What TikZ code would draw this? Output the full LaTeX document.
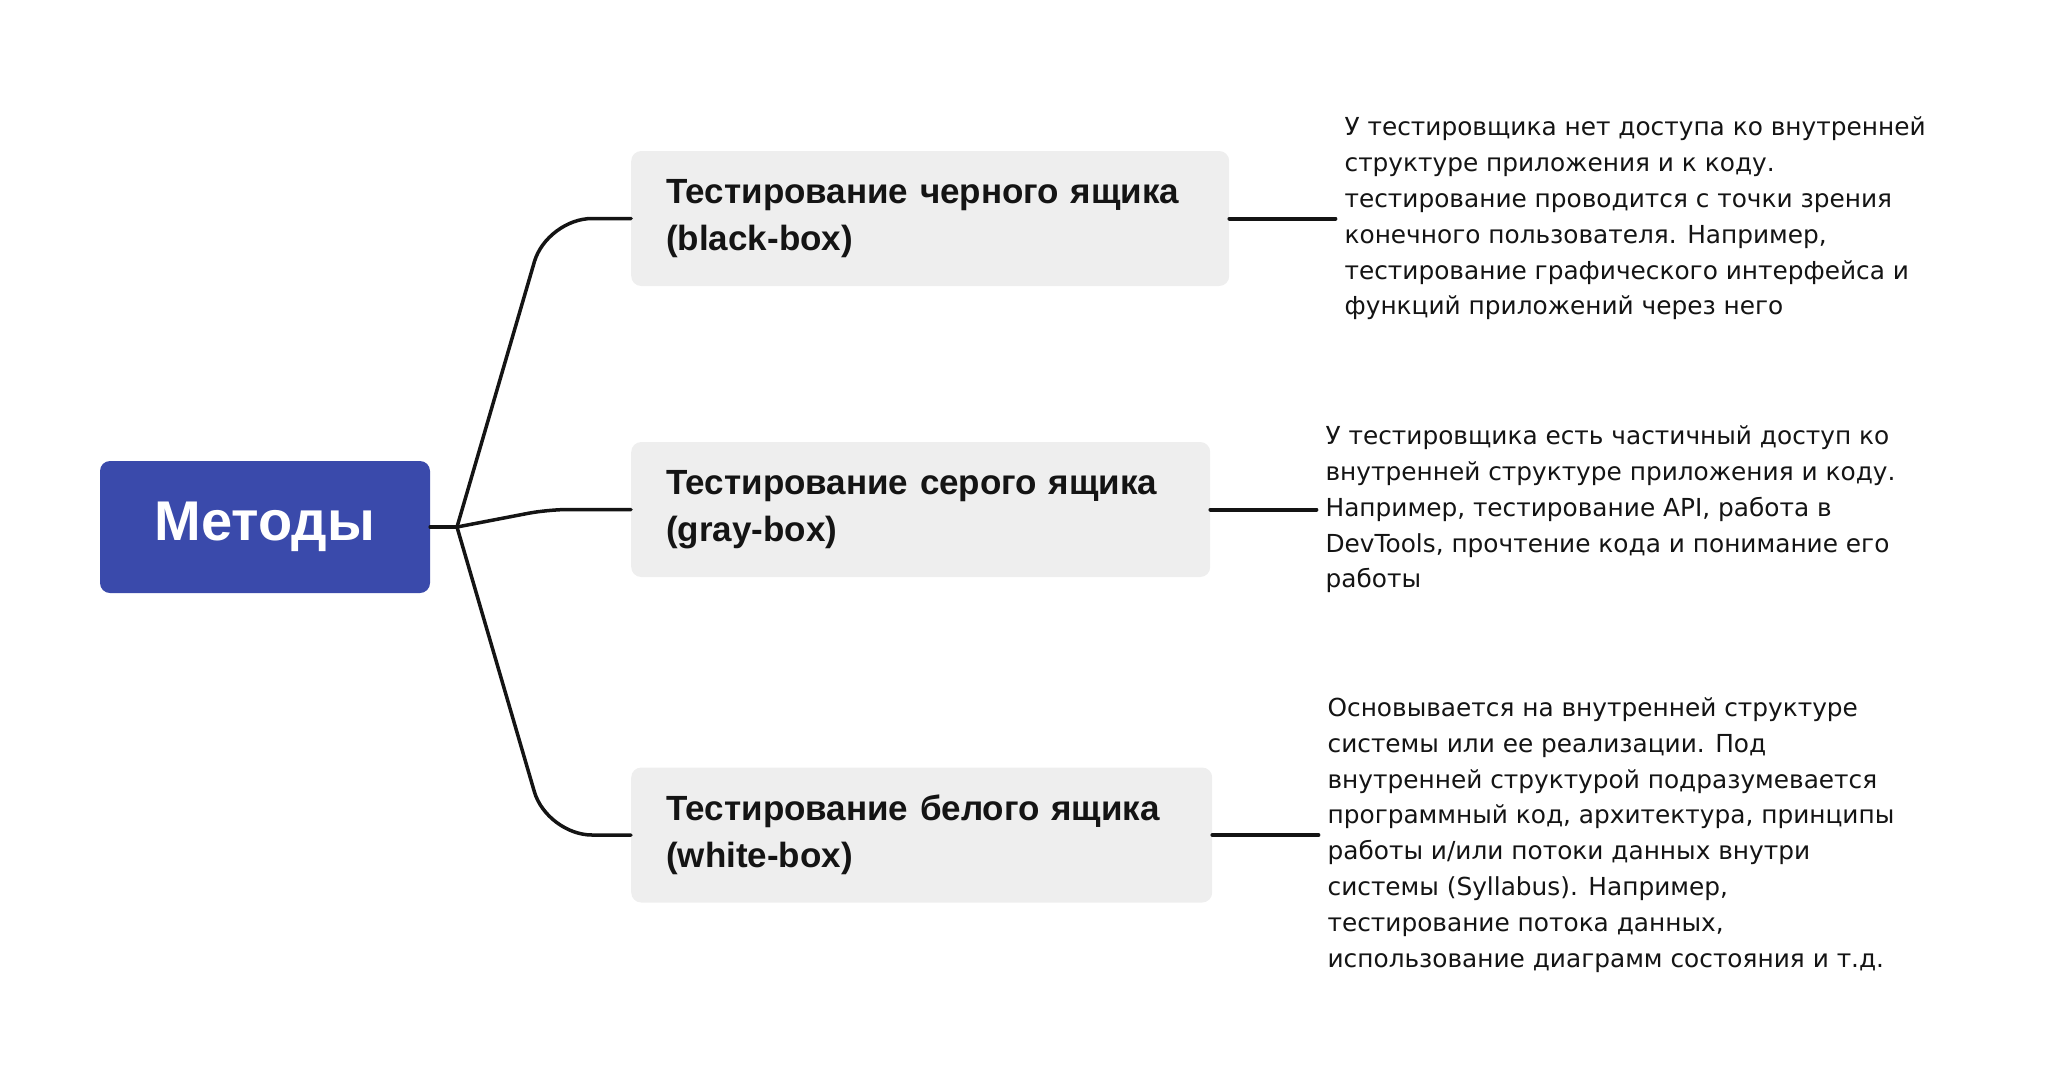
\documentclass[tikz,border=0pt]{standalone}
\usepackage{fontspec}
\setmainfont{Liberation Sans}
\newfontfamily\notefont{DejaVu Sans}
\usetikzlibrary{positioning}

\definecolor{rootblue}{HTML}{3A4AAB}
\definecolor{boxgray}{HTML}{EEEEEE}
\definecolor{ink}{HTML}{141414}

\begin{document}
\begin{tikzpicture}[%
    x=1pt, y=-1pt,
    node distance=106pt,
    root/.style={rectangle, rounded corners=10pt, fill=rootblue, text=white,
        minimum width=330pt, minimum height=132pt,
        font=\fontsize{56}{60}\selectfont\bfseries},
    branch/.style={rectangle, rounded corners=10pt, fill=boxgray, text=ink,
        anchor=west, align=left, inner xsep=35pt, minimum height=135pt,
        font=\fontsize{35}{47}\selectfont\bfseries},
    note/.style={align=left, inner xsep=9pt, text=ink,
        font=\notefont\fontsize{24.8}{35.8}\selectfont},
    link/.style={draw=ink, line width=3.5pt, line cap=round}
    ]

    \useasboundingbox (0,0) rectangle (2048,1090);

    \node[root] (root) at (265,527) {Методы};
    \node[branch, text width=528pt] (black) at (631,218.5) {Тестирование черного ящика\\(black-box)};
    \node[branch, text width=509pt] (gray) at (631,509.5) {Тестирование серого ящика\\(gray-box)};
    \node[branch, text width=511pt] (white) at (631,835) {Тестирование белого ящика\\(white-box)};

    \node[note, right=of black] (blacknote) {У тестировщика нет доступа ко внутренней\\
        структуре приложения и к коду.\\
        тестирование проводится с точки зрения\\
        конечного пользователя. Например,\\
        тестирование графического интерфейса и\\
        функций приложений через него};
    \node[note, right=of gray] (graynote) {У тестировщика есть частичный доступ ко\\
        внутренней структуре приложения и коду.\\
        Например, тестирование API, работа в\\
        DevTools, прочтение кода и понимание его\\
        работы};
    \node[note, right=of white] (whitenote) {Основывается на внутренней структуре\\
        системы или ее реализации. Под\\
        внутренней структурой подразумевается\\
        программный код, архитектура, принципы\\
        работы и/или потоки данных внутри\\
        системы (Syllabus). Например,\\
        тестирование потока данных,\\
        использование диаграмм состояния и т.д.};

    \coordinate (j) at (457,527);
    \draw[link] (root.east |- j) -- (j);
    \draw[link, rounded corners=45pt] (j) -- (547,218.5) -- (black.west);
    \draw[link, rounded corners=20pt] (j) -- (548,509.5) -- (gray.west);
    \draw[link, rounded corners=45pt] (j) -- (547,835) -- (white.west);

    \draw[link, line width=4pt] (black) -- (blacknote);
    \draw[link, line width=4pt] (gray) -- (graynote);
    \draw[link, line width=4pt] (white) -- (whitenote);

\end{tikzpicture}
\end{document}
